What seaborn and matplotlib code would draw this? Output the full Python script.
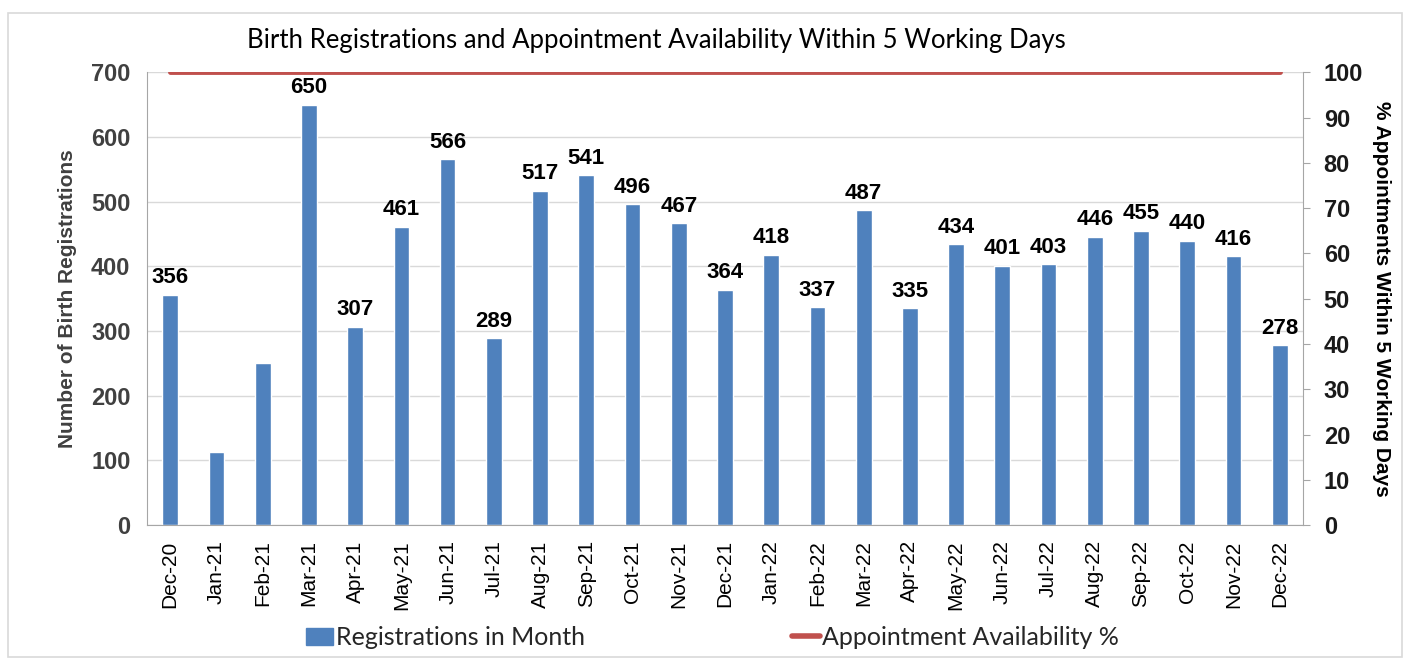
import numpy as np
import pandas as pd
import matplotlib
matplotlib.use("Agg")
import matplotlib.pyplot as plt
import seaborn as sns
from matplotlib.patches import Rectangle
from matplotlib.lines import Line2D

months = ["Dec-20", "Jan-21", "Feb-21", "Mar-21", "Apr-21", "May-21", "Jun-21", "Jul-21",
          "Aug-21", "Sep-21", "Oct-21", "Nov-21", "Dec-21", "Jan-22", "Feb-22", "Mar-22",
          "Apr-22", "May-22", "Jun-22", "Jul-22", "Aug-22", "Sep-22", "Oct-22", "Nov-22", "Dec-22"]
registrations = [356, 113, 250, 650, 307, 461, 566, 289, 517, 541, 496, 467, 364, 418,
                 337, 487, 335, 434, 401, 403, 446, 455, 440, 416, 278]
show_label = [True, False, False] + [True] * 22
availability = [100] * 25
left_ticks = [0, 100, 200, 300, 400, 500, 600, 700]
right_ticks = [0, 10, 20, 30, 40, 50, 60, 70, 80, 90, 100]

bar_color = "#4F81BD"
line_color = "#C0504D"
calibri_like = ["Lato", "DejaVu Sans"]

sns.set_style("white")
plt.rcParams["font.family"] = ["Liberation Sans", "DejaVu Sans"]

fig = plt.figure(figsize=(14.08, 6.58), dpi=100)
ax = fig.add_axes([0.1045, 0.202, 0.8208, 0.688])

df = pd.DataFrame({"month": months, "reg": registrations})
sns.barplot(data=df, x="month", y="reg", color=bar_color, width=0.34, saturation=1,
            ax=ax, zorder=2)

ax.set_ylim(0, 700)
ax.set_yticks(left_ticks)
ax.set_xlim(-0.5, len(months) - 0.5)
ax.grid(axis="y", color="#D9D9D9", linewidth=1, zorder=0)
ax.set_axisbelow(True)
for s in ["top", "right"]:
    ax.spines[s].set_visible(False)
ax.spines["left"].set_color("#A6A6A6")
ax.spines["bottom"].set_color("#A6A6A6")
ax.tick_params(axis="y", labelsize=17, colors="#404040", length=0, pad=12)
for t in ax.get_yticklabels():
    t.set_fontweight("bold")
ax.tick_params(axis="x", labelsize=15, colors="#000000", rotation=90, length=5,
               color="#A6A6A6", direction="out", pad=6)
ax.set_xlabel("")
ax.set_ylabel("Number of Birth Registrations", fontsize=15, fontweight="bold",
              color="#404040", labelpad=10)

for i, (v, show) in enumerate(zip(registrations, show_label)):
    if show:
        ax.text(i, v + 10, str(v), ha="center", va="bottom", fontsize=16,
                fontweight="bold", color="#000000", zorder=5)

ax2 = ax.twinx()
sns.lineplot(x=np.arange(len(months)), y=availability, ax=ax2, color=line_color,
             linewidth=3.5, sort=False, zorder=4)
ax2.set_ylim(0, 100)
ax2.set_yticks(right_ticks)
for s in ["top", "left", "bottom"]:
    ax2.spines[s].set_visible(False)
ax2.spines["right"].set_color("#A6A6A6")
ax2.tick_params(axis="y", labelsize=17, colors="#1a1a1a", length=5, color="#A6A6A6",
                direction="out", right=True, pad=10)
for t in ax2.get_yticklabels():
    t.set_fontweight("bold")
ax2.set_ylabel("% Appointments Within 5 Working Days", fontsize=15, fontweight="bold",
               color="#000000", rotation=270, labelpad=20)
ax2.set_xlim(-0.5, len(months) - 0.5)

fig.text(0.466, 0.938, "Birth Registrations and Appointment Availability Within 5 Working Days",
         ha="center", va="center", fontsize=18.5, family=calibri_like, color="#000000")

handles = [Rectangle((0, 0), 1, 1, color=bar_color),
           Line2D([0], [0], color=line_color, linewidth=4)]
fig.legend(handles, ["Registrations in Month", "Appointment Availability %"],
           loc="center", bbox_to_anchor=(0.506, 0.031), ncol=2, frameon=False,
           columnspacing=8.3, handlelength=1.1, handletextpad=0.1,
           prop={"family": calibri_like, "size": 18})

border = Rectangle((0.006, 0.002), 0.99, 0.978, transform=fig.transFigure,
                   fill=False, edgecolor="#D9D9D9", linewidth=1.2)
fig.add_artist(border)

fig.savefig("out.png", dpi=100)
